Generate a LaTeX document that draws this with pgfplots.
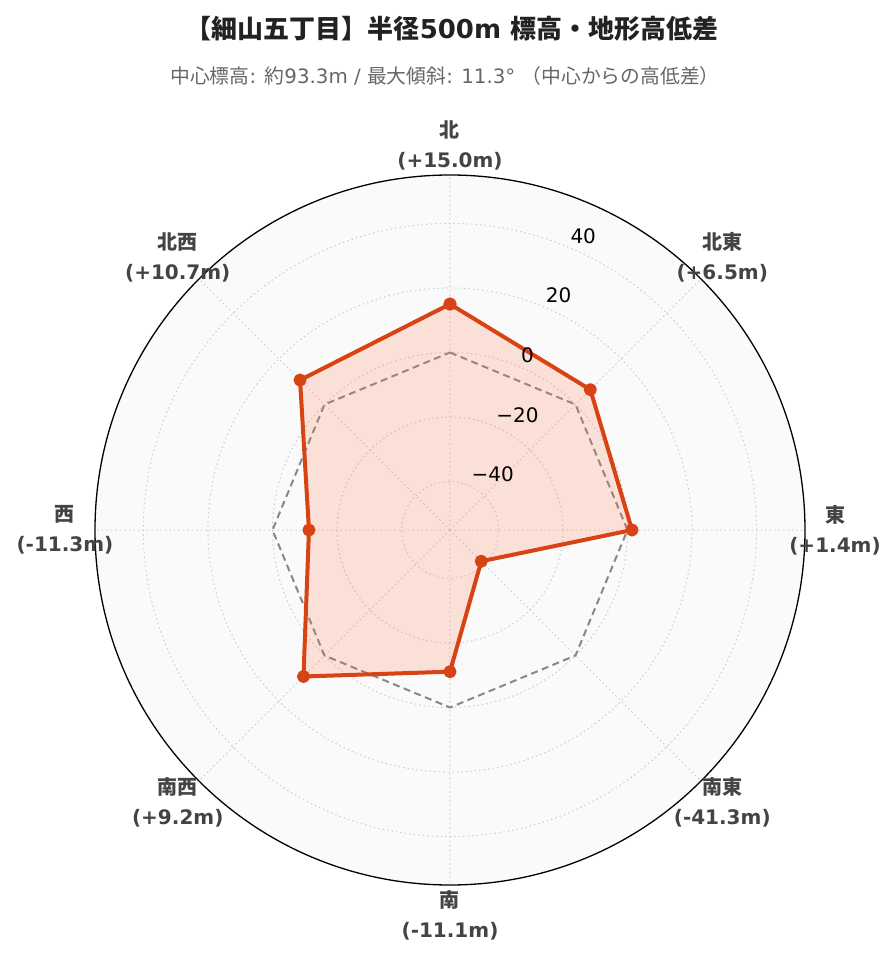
\documentclass[border=0pt]{standalone}
\usepackage{fontspec}
\setmainfont{DejaVu Sans}
\newfontfamily\cjk{Noto Sans CJK JP}
\usepackage{pgfplots}
\pgfplotsset{compat=1.18}
\usepgfplotslibrary{polar}
\definecolor{lineor}{RGB}{216,67,21}
\definecolor{fillor}{RGB}{255,120,80}
\definecolor{dashgray}{RGB}{136,136,136}
\definecolor{bggray}{RGB}{250,250,250}
\definecolor{gridgray}{RGB}{205,205,205}
\definecolor{labgray}{RGB}{68,68,68}
\definecolor{titlecol}{RGB}{34,34,34}
\definecolor{subcol}{RGB}{102,102,102}
\begin{document}
\begin{tikzpicture}[x=1pt,y=1pt]
\useasboundingbox (0,0) rectangle (896,962);
\node[font=\bfseries\fontsize{26}{30}\selectfont, text=titlecol] at (452,933) {{\cjk 【細山五丁目】半径}500m {\cjk 標高・地形高低差}};
\node[font=\fontsize{19.8}{24}\selectfont, text=subcol] at (445,886) {{\cjk 中心標高}: {\cjk 約}93.3m / {\cjk 最大傾斜}: 11.3° {\cjk （中心からの高低差）}};
\begin{polaraxis}[
  at={(450pt,432pt)}, anchor=center,
  scale only axis, width=710pt, height=710pt,
  ymin=0, ymax=110,
  xtick={0,45,...,315},
  ytick={15,35,55,75,95},
  xticklabels=\empty, yticklabels=\empty,
  major tick length=0pt,
  grid=major,
  major grid style={gridgray, dash pattern=on 1.5pt off 3pt, line width=1pt},
  separate axis lines,
  x axis line style={black, line width=1.3pt},
  y axis line style={draw=none},
  axis background/.style={fill=bggray},
  clip=false,
]
% reference line: 0 m difference (shifted by +55)
\addplot[dashgray, dash pattern=on 7pt off 4.5pt, line width=2pt, no marks] coordinates {
(90,55) (45,55) (0,55) (315,55) (270,55) (225,55) (180,55) (135,55) (90,55)};
% elevation difference (value + 55)
\addplot[lineor, line width=4pt, fill=fillor, fill opacity=0.2, line join=round,
  mark=*, mark size=4.5pt, mark options={fill=lineor, draw=lineor, fill opacity=1}] coordinates {
(90,70.0) (45,61.5) (0,56.4) (315,13.7) (270,43.9) (225,64.2) (180,43.7) (135,65.7) (90,70.0)};
% direction labels
\foreach \a/\n/\v in {90/北/+15.0m, 45/北東/+6.5m, 0/東/+1.4m, 315/南東/-41.3m, 270/南/-11.1m, 225/南西/+9.2m, 180/西/-11.3m, 135/北西/+10.7m}{
  \edef\temp{\noexpand\node[align=center, font=\noexpand\bfseries\noexpand\fontsize{20}{30}\noexpand\selectfont, text=labgray] at (axis cs:\a,119.3) {{\noexpand\cjk \n}\noexpand\\(\v)};}
  \temp
}
% radial tick labels
\node[anchor=south west, inner sep=3pt, font=\fontsize{20}{24}\selectfont] at (axis cs:67.5,95) {40};
\node[anchor=south west, inner sep=3pt, font=\fontsize{20}{24}\selectfont] at (axis cs:67.5,75) {20};
\node[anchor=south west, inner sep=3pt, font=\fontsize{20}{24}\selectfont] at (axis cs:67.5,55) {0};
\node[anchor=south west, inner sep=3pt, font=\fontsize{20}{24}\selectfont] at (axis cs:67.5,35) {−20};
\node[anchor=south west, inner sep=3pt, font=\fontsize{20}{24}\selectfont] at (axis cs:67.5,15) {−40};
\end{polaraxis}
\end{tikzpicture}
\end{document}
